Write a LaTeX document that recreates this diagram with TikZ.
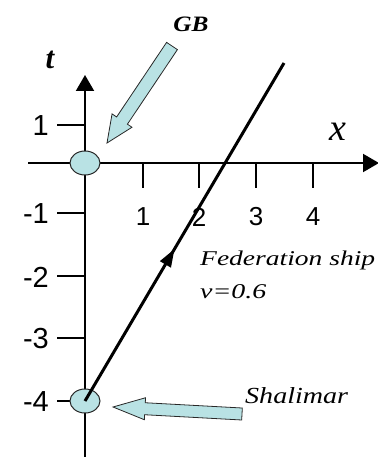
\documentclass[tikz,border=0pt]{standalone}
\usepackage{fontspec}
\setmainfont{Liberation Serif}
\newfontfamily\arialf{Liberation Sans}
\usetikzlibrary{arrows.meta,calc,decorations.markings,shapes.geometric}
\definecolor{lcyan}{RGB}{185,226,228}
\definecolor{edge}{RGB}{40,40,40}
\newcommand{\blkarrow}[6]{% name, tail, tip, head length, shaft half, head half
  \coordinate (#1H) at ($(#3)!#4!(#2)$);
  \filldraw[barrow] ($(#2)!#5!90:(#3)$) -- ($(#1H)!#5!90:(#3)$) -- ($(#1H)!#6!90:(#3)$) -- (#3)
    -- ($(#1H)!#6!-90:(#3)$) -- ($(#1H)!#5!-90:(#3)$) -- ($(#2)!#5!-90:(#3)$) -- cycle;
}
\begin{document}
\begin{tikzpicture}[x=1pt,y=-1pt,
  axis/.style={line width=2pt,-{Triangle[length=16pt,width=18pt]}},
  tickln/.style={line width=1.4pt},
  evt/.style={ellipse,draw=edge,line width=1pt,fill=lcyan,minimum width=30pt,minimum height=24pt,inner sep=0pt},
  ylab/.style={font=\arialf\fontsize{29}{29}\selectfont,anchor=east,inner sep=0pt},
  xlab/.style={font=\arialf\fontsize{26}{26}\selectfont,inner sep=0pt},
  barrow/.style={fill=lcyan,draw=edge,line width=0.8pt,line join=miter},
  wl/.style={line width=3pt,
    decoration={markings,mark=at position 0.45 with {\arrow{Triangle[length=18pt,width=12pt]}}},
    postaction={decorate}},
  lbl/.style={inner sep=0pt}]
\useasboundingbox (0,0) rectangle (377,457);
% axes
\coordinate (xL) at (28,163);
\coordinate (xR) at (379,163);
\coordinate (tBot) at (85,460);
\coordinate (tTop) at (85,75);
\draw[axis] (xL) -- (xR);
\draw[axis] (tBot) -- (tTop);
% t ticks and labels
\foreach \v/\yy in {1/125,-1/213,-2/276,-3/338,-4/401}{
  \coordinate (ta\v) at (57,\yy);
  \coordinate (tb\v) at (85,\yy);
  \draw[tickln] (ta\v) -- (tb\v);
  \node[ylab] (tl\v) at (49,\yy+1) {\v};
}
% x ticks and labels
\foreach \v/\xx in {1/143,2/199,3/256,4/313}{
  \coordinate (xa\v) at (\xx,163);
  \coordinate (xb\v) at (\xx,188);
  \draw[tickln] (xa\v) -- (xb\v);
  \node[xlab] (xl\v) at (\xx,217) {\v};
}
% axis names
\node[lbl,font=\fontsize{31}{31}\selectfont\bfseries\itshape] (tname) at (50,60) {t};
\node[lbl,font=\fontsize{38}{38}\selectfont\itshape] (xname) at (338,132) {x};
% events
\node[evt] (gb) at (85,163) {};
\node[evt] (sh) at (85,401) {};
% world line
\coordinate (wlEnd) at (284,63);
\draw[wl] (sh.center) -- (wlEnd);
% block arrows
\coordinate (gbT) at (172,46);
\coordinate (gbP) at (107,143);
\blkarrow{gb}{gbT}{gbP}{27pt}{6.5pt}{12pt}
\coordinate (shT) at (242,414);
\coordinate (shP) at (113,407);
\blkarrow{sh}{shT}{shP}{32pt}{6pt}{11pt}
% labels
\node[lbl,font=\fontsize{22}{22}\selectfont\bfseries\itshape] (gblab) at (191,24) {\scalebox{1.15}[1]{GB}};
\node[lbl,anchor=base west,font=\fontsize{21}{21}\selectfont\itshape] (fedlab) at (200,265) {\scalebox{1.31}[1]{Federation ship}};
\node[lbl,anchor=base west,font=\fontsize{21}{21}\selectfont\itshape] (vlab) at (200,298) {\scalebox{1.33}[1]{ν=0.6}};
\node[lbl,anchor=base west,font=\fontsize{23}{23}\selectfont\itshape] (shlab) at (245,403) {\scalebox{1.22}[1]{Shalimar}};
\end{tikzpicture}
\end{document}
